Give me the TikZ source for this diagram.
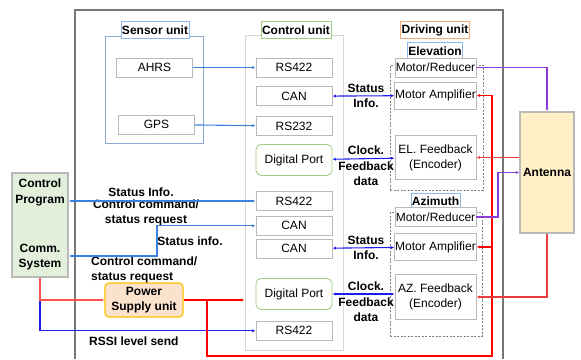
\documentclass[tikz,border=0pt]{standalone}
\usepackage{fontspec}
\setmainfont{Liberation Sans}
\usetikzlibrary{arrows.meta,calc,positioning}

\definecolor{framegray}{RGB}{118,118,118}
\definecolor{boxgray}{RGB}{185,185,185}
\definecolor{sensorblue}{RGB}{140,168,210}
\definecolor{ctrlgray}{RGB}{214,214,214}
\definecolor{portgreen}{RGB}{160,205,130}
\definecolor{tagblue}{RGB}{140,185,235}
\definecolor{tagorange}{RGB}{244,170,120}
\definecolor{antfill}{RGB}{255,240,200}
\definecolor{sysfill}{RGB}{226,239,218}
\definecolor{psufill}{RGB}{251,226,205}
\definecolor{psuedge}{RGB}{255,192,0}

\begin{document}
\begin{tikzpicture}[x=1pt,y=-1pt]
\useasboundingbox (0,0) rectangle (581,359);

\begin{scope}[every node/.style={inner sep=1pt,font=\fontsize{12}{15}\selectfont},
  unit/.style={draw,rectangle,line width=.9pt,minimum width=98pt},
  port/.style={draw=boxgray,fill=white,rectangle,line width=.8pt,minimum width=76pt,minimum height=19pt},
  motor/.style={draw=boxgray,fill=white,rectangle,line width=.8pt,minimum width=81pt,inner xsep=.3pt,align=center},
  group/.style={draw=gray,dash pattern=on 2pt off 1.5pt,line width=.6pt},
  tag/.style={draw,fill=white,rectangle,line width=.6pt,font=\fontsize{12}{15}\selectfont\bfseries,minimum height=17pt,inner sep=1pt},
  note/.style={align=center,font=\fontsize{12}{15.5}\selectfont\bfseries},
  onehead/.style={line width=1.1pt,-{Latex[length=3.5pt,width=3pt]}},
  twohead/.style={line width=1.1pt,{Latex[length=3.5pt,width=3pt]}-{Latex[length=3.5pt,width=3pt]}},
  linkline/.style={draw={rgb,255:red,60;green,130;blue,220}},
  busline/.style={draw={rgb,255:red,30;green,30;blue,235}},
  powline/.style={draw={rgb,255:red,255;green,80;blue,80}},
  fbline/.style={draw={rgb,255:red,235;green,60;blue,60}},
  drvline/.style={draw={rgb,255:red,140;green,60;blue,215}}]

% frame
\draw[framegray,line width=1.6pt] (75,359) -- (75,10) -- (503,10) -- (503,359);

% Nodes
\node[unit,draw=sensorblue,minimum height=107pt] (sensor) at (154,89.5) {};
\node[tag,draw=tagblue,minimum width=66pt] (sensortag) at (155,30) {Sensor unit};
\node[port] (ahrs) at (154.5,67.5) {AHRS};
\node[port] (gps) at (156.5,124.5) {GPS};

\node[unit,draw=ctrlgray,minimum height=315pt] (ctrl) at (294,192.5) {};
\node[tag,draw=portgreen,minimum width=68pt] (ctrltag) at (296,30) {Control unit};
\node[port] (crs1) at (294,67.5) {RS422};
\node[port,below=9pt of crs1] (ccan1) {CAN};
\node[port,below=10pt of ccan1] (crs2) {RS232};
\node[port,draw=portgreen,rounded corners=5pt,minimum height=31pt,below=8pt of crs2] (cdp1) {Digital Port};
\node[port] (crs3) at (294,201) {RS422};
\node[port,below=5pt of crs3] (ccan2) {CAN};
\node[port,below=3pt of ccan2] (ccan3) {CAN};
\node[port,draw=portgreen,rounded corners=5pt,minimum height=31pt] (cdp2) at (294,294) {Digital Port};
\node[port,below=11pt of cdp2] (crs4) {RS422};

\node[tag,draw=tagorange,minimum width=67pt] (drvtag) at (435,30) {Driving unit};
\node[tag,draw=tagblue,minimum width=54pt] (eltag) at (435,51) {Elevation};
\node[group,minimum width=93pt,minimum height=125pt] (elgrp) at (436.5,127.5) {};
\node[motor,minimum height=19pt] (emr) at (435.5,67.5) {Motor/Reducer};
\node[motor,minimum height=27pt] (ema) at (435.5,95.5) {Motor Amplifier};
\node[motor,minimum height=44pt] (efb) at (435.5,157.5) {EL. Feedback\\(Encoder)};

\node[group,minimum width=92pt,minimum height=124pt] (azgrp) at (436,274) {};
\node[tag,draw=tagblue,minimum width=47pt] (aztag) at (435.5,201.5) {Azimuth};
\node[motor,minimum height=19pt] (amr) at (435.5,217) {Motor/Reducer};
\node[motor,minimum height=27pt] (ama) at (435.5,247) {Motor Amplifier};
\node[motor,minimum height=45pt] (afb) at (435.5,297) {AZ. Feedback\\(Encoder)};

\node[draw=boxgray,fill=antfill,line width=1.5pt,minimum width=54pt,minimum height=121pt,note] (ant) at (547,172.5) {Antenna};

\node[draw=boxgray,fill=sysfill,line width=1.5pt,minimum width=56pt,minimum height=104pt] (sys) at (40,225) {};
\node[note] (prog) at (40,192.5) {Control\\Program};
\node[note] (comm) at (40,257) {Comm.\\System};

\node[draw=psuedge,fill=psufill,rounded corners=4pt,line width=1.2pt,minimum width=78pt,minimum height=34pt,note] (psu) at (144,300) {Power\\Supply unit};

\node[note] (stat1) at (141,192) {Status Info.};
\node[note] (cmd1) at (146,213) {Control command/\\status request};
\node[note] (stat2) at (190,241) {Status info.};
\node[note,align=left,anchor=west] (cmd2) at (90,270) {Control command/\\status request};
\node[note,anchor=west] (rssi) at (88,341) {RSSI level send};

\node[note] (elstat) at (366,96) {Status\\Info.};
\node[note] (elclk) at (366,166) {Clock.\\Feedback\\data};
\node[note] (azstat) at (366,248) {Status\\Info.};
\node[note] (azclk) at (366,302) {Clock.\\Feedback\\data};

%arcs
\path (ahrs) edge[onehead,linkline] (crs1);
\path (gps) edge[onehead,linkline] (crs2);
\path[twohead,linkline] (crs3.west) -- (crs3.west -| sys.east);
\coordinate (kink) at (157,256);
\path[twohead,linkline] (ccan2.west) -| (kink) -- (kink -| sys.east);

\path[onehead,busline] (sys.south) |- (crs4.west);
\path[onehead,powline] (sys.south) |- (psu.west);

\draw[onehead,red] (psu.east) -- (psu.east -| ctrl.west);
\coordinate (split) at (207,300);
\coordinate (rise) at (492,356);
\draw[onehead,red] (split) |- (rise) |- (ema.east);
\draw[onehead,red] (rise |- ama.east) -- (ama.east);

\path (ccan1) edge[twohead,busline] (ema);
\path (cdp1) edge[twohead,busline] (efb);
\path (ccan3) edge[twohead,busline] (ama);
\path[twohead,busline] (cdp2.east) -- (cdp2.east -| afb.west);

\path[onehead,fbline] (ant.west |- efb.east) -- (efb.east);
\path[onehead,fbline] (ant.south) |- (afb.east);
\path[onehead,drvline] (emr.east) -| (ant.north);
\coordinate (azup) at (498,217);
\path[onehead,drvline] (amr.east) -- (azup) |- (ant.west);

\end{scope}

\end{tikzpicture}
\end{document}
